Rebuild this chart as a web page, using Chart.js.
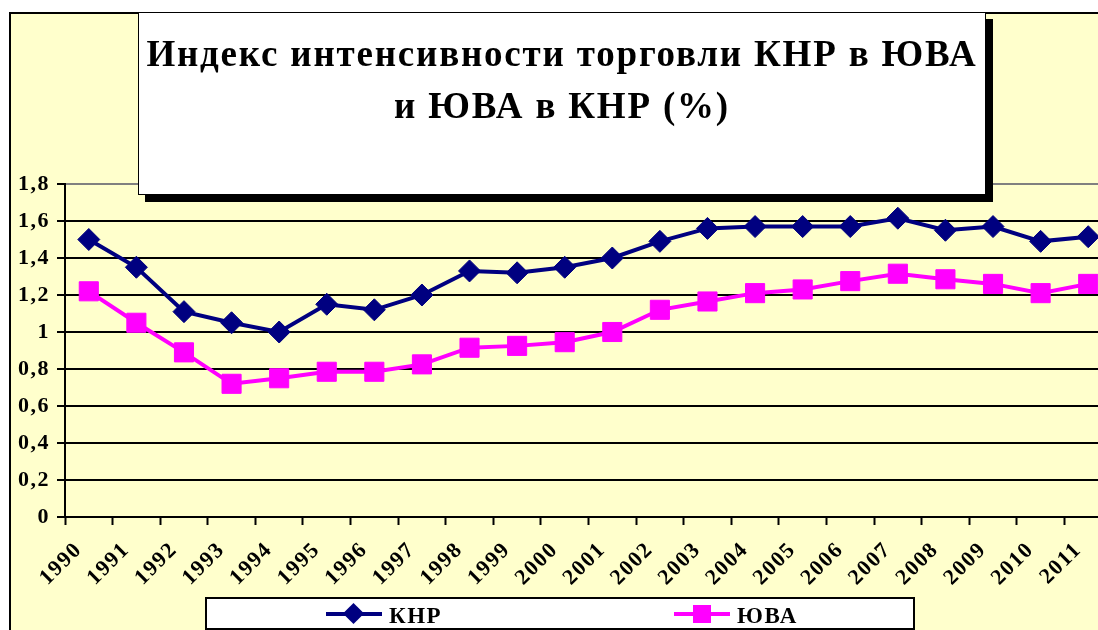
<!DOCTYPE html>
<html>
<head>
<meta charset="utf-8">
<script src="https://cdn.jsdelivr.net/npm/chart.js@4/dist/chart.umd.min.js"></script>
<style>
    html, body {
        margin: 0;
        padding: 0;
        width: 1098px;
        height: 630px;
        overflow: hidden;
        background: #fff;
        font-family: "Liberation Serif", "Times New Roman", serif;
    }
    #frame {
        position: absolute;
        left: 9px;
        top: 12px;
        width: 1200px;
        height: 700px;
        border: 2px solid #000;
        background: #FFFFCC;
    }
    #wrap {
        position: absolute;
        left: 0;
        top: 0;
        width: 1130px;
        height: 630px;
    }
    #titleBox {
        position: absolute;
        left: 138px;
        top: 12px;
        width: 848px;
        height: 183px;
        border: 1px solid #000;
        background: #fff;
        box-shadow: 7px 7px 0 #000;
        text-align: center;
        font-weight: bold;
        font-size: 37px;
        line-height: 52px;
        letter-spacing: 1.8px;
        padding-top: 15px;
        box-sizing: border-box;
        color: #000;
    }
    #legend {
        position: absolute;
        left: 205px;
        top: 597px;
        width: 706px;
        height: 29px;
        border: 2px solid #000;
        background: #fff;
    }
    .item {
        position: absolute;
        top: 0;
        height: 29px;
        font-weight: bold;
        font-size: 23px;
        line-height: 33px;
        letter-spacing: 1.5px;
    }
    .item .line {
        position: absolute;
        top: 13px;
        left: 0;
        width: 56px;
        height: 4px;
    }
    .item .mark {
        position: absolute;
    }
    .item .text {
        position: absolute;
        left: 63px;
        top: 0;
        white-space: nowrap;
    }
</style>
</head>
<body>
<div id="frame"></div>
<div id="wrap"><canvas id="chart"></canvas></div>
<div id="titleBox">Индекс интенсивности торговли КНР в ЮВА<br>и ЮВА в КНР (%)</div>
<div id="legend"></div>
<script>
    // данные
    const years = ['1990', '1991', '1992', '1993', '1994', '1995', '1996', '1997', '1998', '1999', '2000',
        '2001', '2002', '2003', '2004', '2005', '2006', '2007', '2008', '2009', '2010', '2011'];
    const knr = [1.50, 1.35, 1.11, 1.05, 1.00, 1.15, 1.12, 1.20, 1.33, 1.32, 1.35,
        1.40, 1.49, 1.56, 1.57, 1.57, 1.57, 1.615, 1.55, 1.57, 1.49, 1.515];
    const yuva = [1.22, 1.05, 0.89, 0.72, 0.75, 0.785, 0.785, 0.825, 0.915, 0.925, 0.945,
        1.00, 1.12, 1.165, 1.21, 1.23, 1.275, 1.315, 1.285, 1.26, 1.21, 1.26];
    const seriesNames = ['КНР', 'ЮВА'];

    const fontFamily = '"Liberation Serif", "Times New Roman", serif';

    function formatTick(value) {
        return parseFloat(value.toFixed(1)).toString().replace('.', ',');
    }

    // шрифт на картинке немного растянут по ширине
    const letterSpacingPlugin = {
        id: 'letterSpacing',
        beforeDraw(chart) {
            chart.ctx.letterSpacing = '1.5px';
        }
    };

    const datasets = [
        {
            label: seriesNames[0],
            data: knr,
            borderColor: '#000080',
            backgroundColor: '#000080',
            borderWidth: 4,
            pointStyle: 'rectRot',
            pointRadius: 11,
            pointHoverRadius: 11,
            pointBorderWidth: 1,
            tension: 0
        },
        {
            label: seriesNames[1],
            data: yuva,
            borderColor: '#FF00FF',
            backgroundColor: '#FF00FF',
            borderWidth: 4,
            pointStyle: 'rect',
            pointRadius: 13.5,
            pointHoverRadius: 13.5,
            pointBorderWidth: 1,
            tension: 0
        }
    ];

    new Chart(document.getElementById('chart'), {
        type: 'line',
        data: {
            labels: years,
            datasets: datasets
        },
        plugins: [letterSpacingPlugin],
        options: {
            responsive: true,
            maintainAspectRatio: false,
            animation: false,
            layout: {
                padding: {top: 184, left: 10, right: 18, bottom: 0}
            },
            plugins: {
                legend: {display: false},
                title: {display: false},
                tooltip: {enabled: false}
            },
            scales: {
                x: {
                    offset: true,
                    afterFit: function (scale) {
                        scale.height = 113;
                    },
                    grid: {
                        offset: true,
                        drawOnChartArea: false,
                        drawTicks: true,
                        tickLength: 8,
                        tickWidth: 2,
                        tickColor: '#000'
                    },
                    border: {display: true, color: '#000', width: 2},
                    ticks: {
                        autoSkip: false,
                        minRotation: 45,
                        maxRotation: 45,
                        labelOffset: -10,
                        padding: 12,
                        color: '#000',
                        font: {family: fontFamily, size: 22, weight: 'bold'}
                    }
                },
                y: {
                    min: 0,
                    max: 1.8,
                    afterFit: function (scale) {
                        scale.width = 55;
                    },
                    grid: {
                        color: function (ctx) {
                            return ctx.tick && ctx.tick.value >= 1.8 ? '#808080' : '#000';
                        },
                        lineWidth: 2,
                        drawTicks: true,
                        tickLength: 8,
                        tickColor: '#000'
                    },
                    border: {display: true, color: '#000', width: 2},
                    ticks: {
                        stepSize: 0.2,
                        padding: 7,
                        color: '#000',
                        font: {family: fontFamily, size: 22, weight: 'bold'},
                        callback: function (value) {
                            return formatTick(value);
                        }
                    }
                }
            }
        }
    });

    // легенда
    const legend = document.getElementById('legend');
    const itemLefts = [119, 467];
    datasets.forEach((ds, i) => {
        const item = document.createElement('div');
        item.className = 'item';
        item.style.left = itemLefts[i] + 'px';

        const line = document.createElement('div');
        line.className = 'line';
        line.style.background = ds.borderColor;
        item.appendChild(line);

        const mark = document.createElement('div');
        mark.className = 'mark';
        mark.style.background = ds.backgroundColor;
        if (ds.pointStyle === 'rectRot') {
            mark.style.width = '15px';
            mark.style.height = '15px';
            mark.style.left = '20px';
            mark.style.top = '7px';
            mark.style.transform = 'rotate(45deg)';
        } else {
            mark.style.width = '18px';
            mark.style.height = '18px';
            mark.style.left = '19px';
            mark.style.top = '6px';
        }
        item.appendChild(mark);

        const text = document.createElement('div');
        text.className = 'text';
        text.textContent = ds.label;
        item.appendChild(text);

        legend.appendChild(item);
    });
</script>
</body>
</html>
